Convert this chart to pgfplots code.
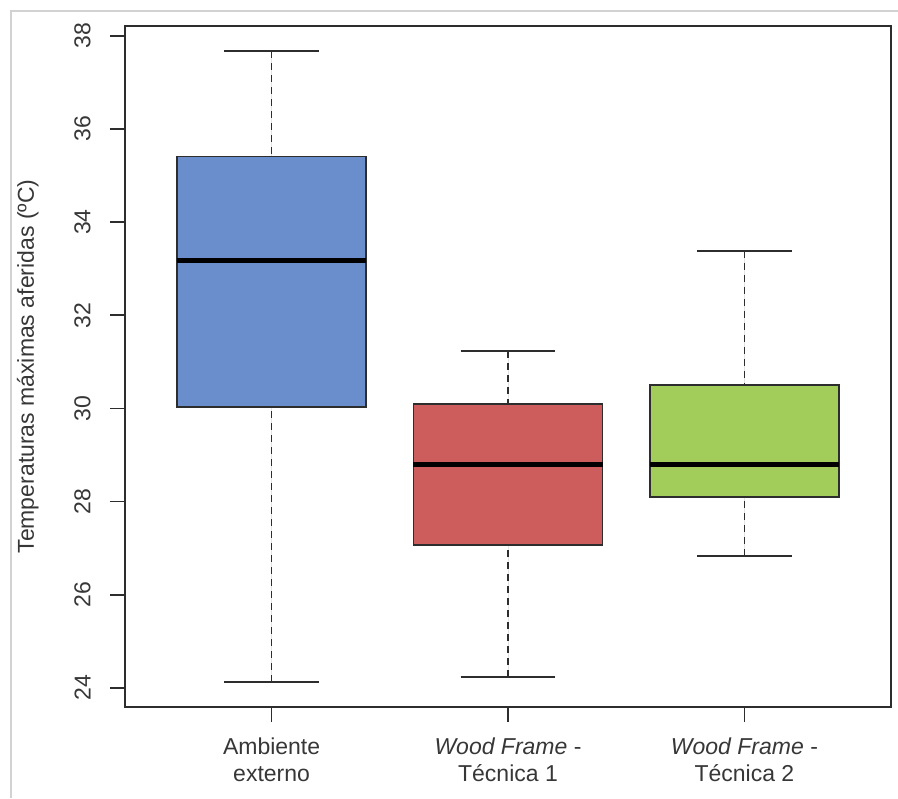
\documentclass[border=0pt]{standalone}
\usepackage{pgfplots}
\pgfplotsset{compat=1.18}
\usepgfplotslibrary{statistics}
\usepackage{fontspec}
\setmainfont{Liberation Sans}
\definecolor{boxblue}{RGB}{106,142,203}
\definecolor{boxred}{RGB}{205,92,92}
\definecolor{boxgreen}{RGB}{162,205,90}
\definecolor{txt}{RGB}{55,55,55}
\definecolor{axc}{RGB}{45,45,45}

\begin{document}
\begin{tikzpicture}[x=1pt,y=1pt]
\begin{axis}[
  at={(62.5pt,45.5pt)}, anchor=south west,
  width=383pt, height=340.5pt, scale only axis,
  xmin=0.38, xmax=3.62, ymin=23.59, ymax=38.21,
  axis line style={axc, line width=0.9pt},
  tick style={axc, line width=0.8pt},
  xtick pos=bottom, ytick pos=left,
  tick align=outside, major tick length=7.5pt,
  xtick={1,2,3},
  xticklabels={{Ambiente\\externo},{\textit{Wood Frame} -\\Técnica 1},{\textit{Wood Frame} -\\Técnica 2}},
  ytick={24,26,28,30,32,34,36,38},
  /pgf/number format/assume math mode=true,
  font=\fontsize{11.5}{13.5}\selectfont,
  ticklabel style={text=txt, font=\fontsize{11.5}{13.5}\selectfont},
  yticklabel style={rotate=90, anchor=south, inner sep=0pt, yshift=9.5pt},
  xticklabel style={align=center, anchor=north, inner sep=0pt, yshift=-7.5pt},
  ylabel={Temperaturas máximas aferidas (ºC)},
  ylabel style={at={(axis description cs:-0.1123,0.5)}, anchor=south, inner sep=0pt, text=txt},
  boxplot/draw direction=y,
  boxplot/box extend=0.8,
  boxplot/whisker extend=0.4,
  boxplot/every median/.style={draw=black, line width=2.5pt},
  boxplot/draw/lower whisker/.code={%
    \draw[axc, line width=0.8pt, dash pattern=on 3.5pt off 2.5pt]
      (boxplot box cs:\pgfplotsboxplotvalue{lower whisker},0.5) --
      (boxplot box cs:\pgfplotsboxplotvalue{lower quartile},0.5);
    \draw[axc, line width=0.8pt, solid]
      (boxplot whisker cs:\pgfplotsboxplotvalue{lower whisker},0) --
      (boxplot whisker cs:\pgfplotsboxplotvalue{lower whisker},1);
  },
  boxplot/draw/upper whisker/.code={%
    \draw[axc, line width=0.8pt, dash pattern=on 3.5pt off 2.5pt]
      (boxplot box cs:\pgfplotsboxplotvalue{upper whisker},0.5) --
      (boxplot box cs:\pgfplotsboxplotvalue{upper quartile},0.5);
    \draw[axc, line width=0.8pt, solid]
      (boxplot whisker cs:\pgfplotsboxplotvalue{upper whisker},0) --
      (boxplot whisker cs:\pgfplotsboxplotvalue{upper whisker},1);
  },
]
\addplot[draw=axc, fill=boxblue, line width=0.75pt,
  boxplot prepared={draw position=1, lower whisker=24.13, lower quartile=30.03,
    median=33.18, upper quartile=35.41, upper whisker=37.67}] coordinates {};
\addplot[draw=axc, fill=boxred, line width=0.75pt,
  boxplot prepared={draw position=2, lower whisker=24.24, lower quartile=27.07,
    median=28.79, upper quartile=30.09, upper whisker=31.23}] coordinates {};
\addplot[draw=axc, fill=boxgreen, line width=0.75pt,
  boxplot prepared={draw position=3, lower whisker=26.83, lower quartile=28.10,
    median=28.79, upper quartile=30.50, upper whisker=33.38}] coordinates {};
\end{axis}
\draw[gray!35, line width=0.6pt] (5.5pt,0) -- (5.5pt,393.5pt) -- (449pt,393.5pt);
\pgfresetboundingbox
\path[use as bounding box] (0,0) rectangle (449pt,399pt);
\end{tikzpicture}
\end{document}
